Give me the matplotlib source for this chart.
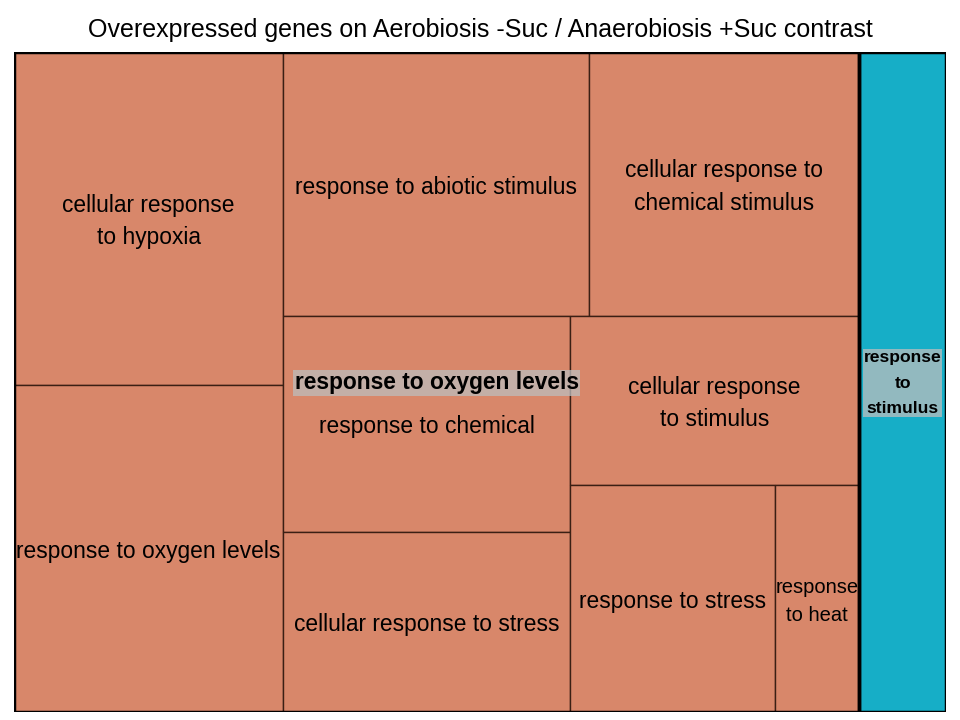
import matplotlib.pyplot as plt
from matplotlib.patches import Rectangle

plt.rcParams['font.family'] = ['Liberation Sans', 'DejaVu Sans']

# REVIGO-style treemap data (relative box areas)
groups = ["response to oxygen levels", "response to stimulus"]
group_colors = ["#D8876A", "#16AEC7"]

terms = [
    "cellular response to hypoxia", "response to oxygen levels",
    "response to abiotic stimulus", "cellular response to chemical stimulus",
    "response to chemical", "cellular response to stress",
    "cellular response to stimulus", "response to stress", "response to heat",
    "response to stimulus",
]
term_group = [0, 0, 0, 0, 0, 0, 0, 0, 0, 1]
values = [89.6, 88.0, 80.8, 71.3, 62.0, 51.7, 48.8, 46.5, 19.1, 57.4]

# how the labels wrap inside their boxes
labels = [
    "cellular response\nto hypoxia", "response to oxygen levels",
    "response to abiotic stimulus", "cellular response to\nchemical stimulus",
    "response to chemical", "cellular response to stress",
    "cellular response\nto stimulus", "response to stress", "response\nto heat",
    "",
]
group_labels = ["response to oxygen levels", "response\nto\nstimulus"]


def pivot_size(items, x, y, w, h):
    """Pivot-by-size treemap layout. items: list of (key, value)."""
    items = sorted(items, key=lambda t: -t[1])
    if not items:
        return []
    if len(items) == 1:
        return [(items[0][0], x, y, w, h)]
    total = sum(v for _, v in items)
    pk, pv = items[0]
    rest = items[1:]
    wide = w >= h
    best, best_k = None, 0
    for k in range(len(rest) + 1):
        s = pv + sum(v for _, v in rest[:k])
        if wide:
            cw = w * s / total
            ph = h * pv / s
            ar = max(cw / ph, ph / cw)
        else:
            rh = h * s / total
            pw = w * pv / s
            ar = max(rh / pw, pw / rh)
        if best is None or ar < best:
            best, best_k = ar, k
    r2, r3 = rest[:best_k], rest[best_k:]
    s = pv + sum(v for _, v in r2)
    out = []
    if wide:
        cw = w * s / total
        ph = h * pv / s
        out.append((pk, x, y, cw, ph))
        out += pivot_size(r2, x, y + ph, cw, h - ph)
        out += pivot_size(r3, x + cw, y, w - cw, h)
    else:
        rh = h * s / total
        pw = w * pv / s
        out.append((pk, x, y, pw, rh))
        out += pivot_size(r2, x + pw, y, w - pw, rh)
        out += pivot_size(r3, x, y + rh, w, h - rh)
    return out


fig = plt.figure(figsize=(9.6, 7.2), dpi=100)
ax = fig.add_axes([14 / 960, 8 / 720, 932 / 960, 660 / 720])
W, H = 932, 660
ax.set_xlim(0, W)
ax.set_ylim(H, 0)
ax.axis('off')

gsum = [sum(v for v, g in zip(values, term_group) if g == i) for i in range(len(groups))]
glayout = pivot_size(list(enumerate(gsum)), 0, 0, W, H)

label_size = [16.4, 16.4, 16.4, 16.4, 16.4, 16.4, 16.4, 16.4, 14.5, 12]
dy = 3  # labels sit a touch below the box centre

for gi, gx, gy, gw, gh in glayout:
    members = [(i, values[i]) for i in range(len(terms)) if term_group[i] == gi]
    for ti, x, y, w, h in pivot_size(members, gx, gy, gw, gh):
        ax.add_patch(Rectangle((x, y), w, h, facecolor=group_colors[gi],
                               edgecolor="#3a1f14", linewidth=1, zorder=1))
        if labels[ti]:
            ax.text(x + w / 2, y + h / 2 + dy, labels[ti], ha='center', va='center',
                    fontsize=label_size[ti],
                    linespacing=1.65 if label_size[ti] < 16 else 1.55, zorder=3)
    ax.add_patch(Rectangle((gx, gy), gw, gh, facecolor='none',
                           edgecolor='black', linewidth=2.5, zorder=2))
    ax.text(gx + gw / 2, gy + gh / 2 + 1, group_labels[gi], ha='center', va='center',
            fontsize=16.4 if gi == 0 else 12.6, fontweight='bold', linespacing=1.9,
            bbox=dict(boxstyle='square,pad=0.05', facecolor='#BDBDBD', alpha=0.75,
                      edgecolor='none'), zorder=4)

fig.text(0.5, 1 - 30 / 720, "Overexpressed genes on Aerobiosis -Suc / Anaerobiosis +Suc contrast",
         ha='center', va='center', fontsize=18)

fig.savefig("out.png", dpi=100)
